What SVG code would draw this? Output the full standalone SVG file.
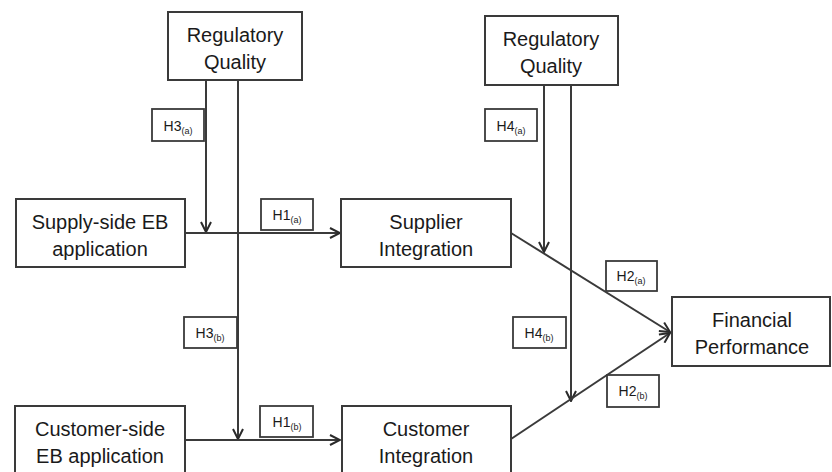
<svg xmlns="http://www.w3.org/2000/svg" width="832" height="472" viewBox="0 0 832 472">
<defs>
<style>
.box{fill:#fff;stroke:#3a3a3a;stroke-width:2}
.lbl{fill:#fff;stroke:#3a3a3a;stroke-width:1.8}
.t{font-family:"Liberation Sans",Arial,sans-serif;font-size:20px;fill:#1a1a1a;text-anchor:middle}
.h{font-family:"Liberation Sans",Arial,sans-serif;font-size:14px;fill:#1a1a1a;text-anchor:middle}
.s{font-size:9px}
.c{fill:none;stroke:#3a3a3a;stroke-width:2}
</style>
<marker id="ah" viewBox="0 0 12 12" refX="11" refY="6" markerWidth="12" markerHeight="12" markerUnits="userSpaceOnUse" orient="auto">
<path d="M1,1 L11,6 L1,11" fill="none" stroke="#2a2a2a" stroke-width="2"/>
</marker>
</defs>
<rect width="832" height="472" fill="#fff"/>
<g id="connectors">
<line class="c" x1="206" y1="80" x2="206" y2="232" marker-end="url(#ah)"/>
<line class="c" x1="238" y1="80" x2="238" y2="439" marker-end="url(#ah)"/>
<line class="c" x1="185" y1="233" x2="340" y2="233" marker-end="url(#ah)"/>
<line class="c" x1="185" y1="440" x2="340" y2="440" marker-end="url(#ah)"/>
<line class="c" x1="544" y1="85" x2="544" y2="252" marker-end="url(#ah)"/>
<line class="c" x1="571" y1="85" x2="571" y2="401" marker-end="url(#ah)"/>
<line class="c" x1="511" y1="233" x2="670" y2="332" marker-end="url(#ah)"/>
<line class="c" x1="511" y1="439" x2="670" y2="333" marker-end="url(#ah)"/>
</g>
<g id="rq1"><rect class="box" x="168" y="12" width="134" height="68"/><text class="t" x="235" y="42">Regulatory</text><text class="t" x="235" y="69">Quality</text></g>
<g id="rq2"><rect class="box" x="485" y="16" width="133" height="69"/><text class="t" x="551" y="46">Regulatory</text><text class="t" x="551" y="73">Quality</text></g>
<g id="supply"><rect class="box" x="16" y="199" width="169" height="68"/><text class="t" x="100" y="229">Supply-side EB</text><text class="t" x="100" y="256">application</text></g>
<g id="customer"><rect class="box" x="15" y="406" width="170" height="70"/><text class="t" x="100" y="436">Customer-side</text><text class="t" x="100" y="463">EB application</text></g>
<g id="supplierint"><rect class="box" x="341" y="199" width="170" height="68"/><text class="t" x="426" y="229">Supplier</text><text class="t" x="426" y="256">Integration</text></g>
<g id="customerint"><rect class="box" x="342" y="406" width="169" height="70"/><text class="t" x="426" y="436">Customer</text><text class="t" x="426" y="463">Integration</text></g>
<g id="financial"><rect class="box" x="672" y="297" width="158" height="69"/><text class="t" x="752" y="327">Financial</text><text class="t" x="752" y="354">Performance</text></g>
<g id="h3a"><rect class="lbl" x="152" y="109" width="52" height="32"/><text class="h" x="178" y="131">H3<tspan class="s" dy="3">(a)</tspan></text></g>
<g id="h3b"><rect class="lbl" x="184" y="317" width="53" height="31"/><text class="h" x="210" y="338">H3<tspan class="s" dy="3">(b)</tspan></text></g>
<g id="h1a"><rect class="lbl" x="261" y="199" width="52" height="31"/><text class="h" x="287" y="220">H1<tspan class="s" dy="3">(a)</tspan></text></g>
<g id="h1b"><rect class="lbl" x="260" y="406" width="53" height="31"/><text class="h" x="287" y="427">H1<tspan class="s" dy="3">(b)</tspan></text></g>
<g id="h4a"><rect class="lbl" x="485" y="109" width="52" height="32"/><text class="h" x="511" y="131">H4<tspan class="s" dy="3">(a)</tspan></text></g>
<g id="h4b"><rect class="lbl" x="513" y="317" width="53" height="31"/><text class="h" x="539" y="338">H4<tspan class="s" dy="3">(b)</tspan></text></g>
<g id="h2a"><rect class="lbl" x="606" y="261" width="51" height="30"/><text class="h" x="631" y="281">H2<tspan class="s" dy="3">(a)</tspan></text></g>
<g id="h2b"><rect class="lbl" x="607" y="375" width="52" height="32"/><text class="h" x="633" y="396">H2<tspan class="s" dy="3">(b)</tspan></text></g>
</svg>
